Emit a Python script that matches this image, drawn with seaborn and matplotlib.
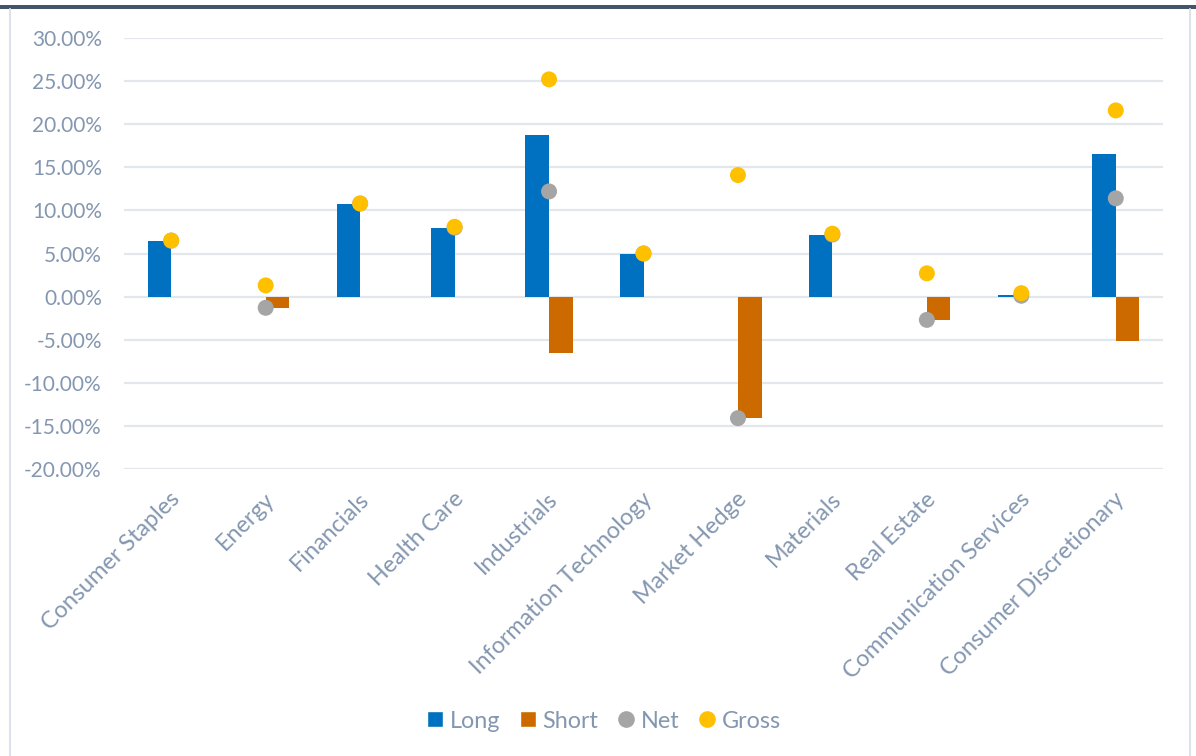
import numpy as np
import pandas as pd
import matplotlib
matplotlib.use("Agg")
import matplotlib.pyplot as plt
from matplotlib.lines import Line2D
from matplotlib.patches import Patch, Rectangle
import seaborn as sns

categories = ["Consumer Staples", "Energy", "Financials", "Health Care", "Industrials",
              "Information Technology", "Market Hedge", "Materials", "Real Estate",
              "Communication Services", "Consumer Discretionary"]
long_vals = [6.5, 0.0, 10.8, 8.0, 18.7, 5.0, 0.0, 7.2, 0.0, 0.2, 16.5]
short_vals = [0.0, -1.3, 0.0, 0.0, -6.5, 0.0, -14.1, 0.0, -2.7, -0.1, -5.1]
net_vals = [6.5, -1.3, 10.8, 8.0, 12.2, 5.0, -14.1, 7.2, -2.7, 0.1, 11.4]
gross_vals = [6.5, 1.3, 10.8, 8.1, 25.2, 5.0, 14.1, 7.3, 2.7, 0.4, 21.6]
y_ticks = [-20, -15, -10, -5, 0, 5, 10, 15, 20, 25, 30]

text_color = "#8497B0"
grid_color = "#E3E7EC"
colors = {"Long": "#0070C0", "Short": "#CC6A00", "Net": "#A5A5A5", "Gross": "#FFC000"}

sns.set_theme(style="white")
plt.rcParams["font.family"] = ["Lato", "DejaVu Sans"]

bars = pd.DataFrame({
    "Sector": categories * 2,
    "Value": long_vals + short_vals,
    "Type": ["Long"] * len(categories) + ["Short"] * len(categories),
})
dots = pd.DataFrame({
    "Sector": categories * 2,
    "Value": net_vals + gross_vals,
    "Type": ["Net"] * len(categories) + ["Gross"] * len(categories),
})

fig = plt.figure(figsize=(11.96, 7.56), dpi=100)
ax = fig.add_axes([124 / 1196, 1 - 469 / 756, (1163 - 124) / 1196, (469 - 38) / 756])

sns.barplot(data=bars, x="Sector", y="Value", hue="Type", order=categories,
            palette=colors, width=0.5, saturation=1, ax=ax, legend=False, zorder=3,
            linewidth=0, edgecolor="none")
sns.stripplot(data=dots, x="Sector", y="Value", hue="Type", order=categories,
              hue_order=["Net", "Gross"], palette=colors, jitter=False, dodge=False,
              size=11.5, linewidth=0, ax=ax, legend=False, zorder=4)

ax.set_ylim(-20, 30)
ax.set_xlim(-0.5, len(categories) - 0.5)
ax.set_yticks(y_ticks)
ax.set_yticklabels([f"{v:.2f}%" for v in y_ticks], color=text_color, fontsize=15)
ax.yaxis.grid(True, color=grid_color, linewidth=1.6, zorder=0)
ax.set_axisbelow(True)
ax.tick_params(axis="y", length=0, pad=16)
ax.tick_params(axis="x", length=0, pad=14)
ax.set_xticks(range(len(categories)))
ax.set_xticklabels(categories, rotation=45, ha="right", rotation_mode="anchor",
                   color=text_color, fontsize=16.8)
for lbl in ax.get_xticklabels():
    lbl.set_transform(lbl.get_transform() + matplotlib.transforms.ScaledTranslation(
        -2 / 100, 0, fig.dpi_scale_trans))
ax.set_xlabel("")
ax.set_ylabel("")
for s in ax.spines.values():
    s.set_visible(False)

handles = [
    Patch(facecolor=colors["Long"], label="Long"),
    Patch(facecolor=colors["Short"], label="Short"),
    Line2D([], [], marker="o", linestyle="none", markersize=12, markerfacecolor=colors["Net"],
           markeredgewidth=0, label="Net"),
    Line2D([], [], marker="o", linestyle="none", markersize=12, markerfacecolor=colors["Gross"],
           markeredgewidth=0, label="Gross"),
]
leg = fig.legend(handles=handles, loc="center", bbox_to_anchor=(0.5 + 6 / 1196, 1 - 721 / 756),
                 ncol=4, frameon=False, fontsize=16.8, handlelength=0.66, handleheight=0.66,
                 handletextpad=0.3, columnspacing=0.85, labelcolor=text_color)

# frame decorations
fig.add_artist(Rectangle((0, 1 - 9 / 756), 1, 4 / 756, transform=fig.transFigure,
                         facecolor="#44546A", edgecolor="none"))
fig.add_artist(Line2D([9.5 / 1196, 9.5 / 1196], [0, 1 - 9 / 756], transform=fig.transFigure,
                      color="#DDE3EA", linewidth=1.5))
fig.add_artist(Line2D([1190 / 1196, 1190 / 1196], [0, 1 - 9 / 756], transform=fig.transFigure,
                      color="#DDE3EA", linewidth=1.5))

fig.savefig("out.png", dpi=100)
